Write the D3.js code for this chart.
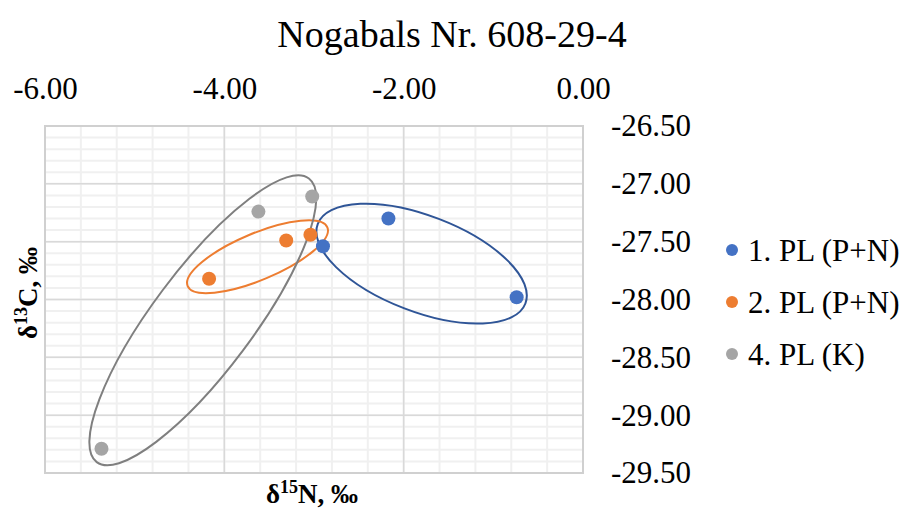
<!DOCTYPE html>
<html>
<head>
<meta charset="utf-8">
<script src="https://cdn.jsdelivr.net/npm/d3@7"></script>
<style>
  body { margin: 0; background: #fff; }
  text { font-family: "Liberation Serif", "Times New Roman", serif; fill: #000; }
</style>
</head>
<body>
<div id="chart"></div>
<script>
// series (δ15N, δ13C)
const seriesNames = ["1. PL (P+N)", "2. PL (P+N)", "4. PL (K)"];
const seriesColors = ["#4472C4", "#ED7D31", "#A5A5A5"];
const ellipseColors = ["#2F5597", "#ED7D31", "#7F7F7F"];

const pl1 = [[-2.17, -27.30], [-2.90, -27.54], [-0.74, -27.98]];
const pl2 = [[-4.17, -27.82], [-3.31, -27.49], [-3.04, -27.44]];
const pl4 = [[-3.62, -27.24], [-3.02, -27.11], [-5.37, -29.29]];

// hand drawn ellipses: centre (x,y), semi axes in x units, rotation (deg)
const ellipses = [
  {cx: -1.80, cy: -27.69, a: 1.24, b: 0.535, rot: 21},
  {cx: -3.63, cy: -27.63, a: 0.845, b: 0.26, rot: -22.8},
  {cx: -4.24, cy: -28.18, a: 1.975, b: 0.56, rot: -53.2}
];

const xTicks = [-6, -4, -2, 0];
const yTicks = [-26.5, -27, -27.5, -28, -28.5, -29, -29.5];

const W = 907, H = 511;
const margin = {top: 126, right: 324, bottom: 38, left: 45},
    width = W - margin.left - margin.right,
    height = H - margin.top - margin.bottom;

// plain hyphen instead of unicode minus
const fmt = d => d3.format(".2f")(d).replace("\u2212", "-");

const svg = d3.select("#chart")
  .append("svg")
    .attr("width", W)
    .attr("height", H);

const g = svg.append("g")
    .attr("transform", "translate(" + margin.left + "," + margin.top + ")");

const x = d3.scaleLinear().domain([-6, 0]).range([0, width]);
const y = d3.scaleLinear().domain([-29.5, -26.5]).range([height, 0]);

// minor grid
const xMinor = d3.range(-6, 0.001, 0.4);
const yMinor = d3.range(-29.5, -26.499, 0.1);
g.selectAll(".xminor").data(xMinor).enter().append("line")
  .attr("x1", d => x(d)).attr("x2", d => x(d))
  .attr("y1", 0).attr("y2", height)
  .attr("stroke", "#f0f0f0").attr("stroke-width", 2);
g.selectAll(".yminor").data(yMinor).enter().append("line")
  .attr("y1", d => y(d)).attr("y2", d => y(d))
  .attr("x1", 0).attr("x2", width)
  .attr("stroke", "#f0f0f0").attr("stroke-width", 2);

// major grid
g.selectAll(".xmajor").data(d3.range(-6, 0.001, 2)).enter().append("line")
  .attr("x1", d => x(d)).attr("x2", d => x(d))
  .attr("y1", 0).attr("y2", height)
  .attr("stroke", "#d9d9d9").attr("stroke-width", 1.5);
g.selectAll(".ymajor").data(yTicks).enter().append("line")
  .attr("y1", d => y(d)).attr("y2", d => y(d))
  .attr("x1", 0).attr("x2", width)
  .attr("stroke", "#d9d9d9").attr("stroke-width", 1.5);

g.append("rect")
  .attr("width", width).attr("height", height)
  .attr("fill", "none").attr("stroke", "#d0d0d0").attr("stroke-width", 2);

// top x axis labels
const xAxis = g.append("g")
  .call(d3.axisTop(x).tickValues(xTicks).tickFormat(fmt).tickSize(0).tickPadding(27));
xAxis.select(".domain").remove();
xAxis.selectAll("text")
  .style("font-family", "Liberation Serif, serif")
  .style("font-size", "31px");

// right y axis labels
const yAxis = g.append("g")
  .attr("transform", "translate(" + width + ",0)")
  .call(d3.axisRight(y).tickValues(yTicks).tickFormat(fmt).tickSize(0).tickPadding(28));
yAxis.select(".domain").remove();
yAxis.selectAll("text")
  .style("font-family", "Liberation Serif, serif")
  .style("font-size", "31px");

// ellipses
const pxPerUnit = x(1) - x(0);
g.selectAll(".ell").data(ellipses).enter().append("ellipse")
  .attr("transform", d => "translate(" + x(d.cx) + "," + y(d.cy) + ") rotate(" + d.rot + ")")
  .attr("rx", d => d.a * pxPerUnit)
  .attr("ry", d => d.b * pxPerUnit)
  .attr("fill", "none")
  .attr("stroke", (d, i) => ellipseColors[i])
  .attr("stroke-width", 2);

// points
[pl1, pl2, pl4].forEach(function(pts, i) {
  g.selectAll(".pt" + i).data(pts).enter().append("circle")
    .attr("cx", d => x(d[0]))
    .attr("cy", d => y(d[1]))
    .attr("r", 7)
    .attr("fill", seriesColors[i]);
});

// title
svg.append("text")
  .attr("x", 452).attr("y", 47)
  .attr("text-anchor", "middle")
  .style("font-size", "38px")
  .text("Nogabals Nr. 608-29-4");

// axis titles
const xt = svg.append("text")
  .attr("x", 312).attr("y", 503)
  .attr("text-anchor", "middle")
  .style("font-size", "27px").style("font-weight", "bold");
xt.append("tspan").text("δ");
xt.append("tspan").attr("dy", -10).style("font-size", "18px").text("15");
xt.append("tspan").attr("dy", 10).text("N, ‰");

const yt = svg.append("text")
  .attr("transform", "translate(37,293) rotate(-90)")
  .attr("text-anchor", "middle")
  .style("font-size", "27px").style("font-weight", "bold");
yt.append("tspan").text("δ");
yt.append("tspan").attr("dy", -10).style("font-size", "18px").text("13");
yt.append("tspan").attr("dy", 10).text("C, ‰");

// legend
const legend = svg.append("g").attr("transform", "translate(732,250)");
seriesNames.forEach(function(name, i) {
  const row = legend.append("g").attr("transform", "translate(0," + i * 52 + ")");
  row.append("circle").attr("r", 6).attr("fill", seriesColors[i]);
  row.append("text")
    .attr("x", 16).attr("dy", "0.35em")
    .style("font-size", "31px")
    .text(name);
});
</script>
</body>
</html>
